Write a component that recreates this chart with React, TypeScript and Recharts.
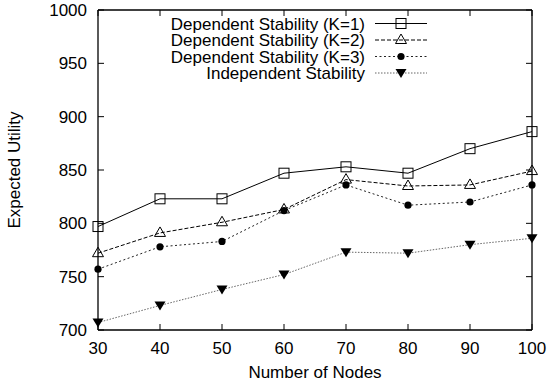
import React from "react";
import { LineChart, Line, XAxis, YAxis, Legend } from "recharts";

const NODES = [30, 40, 50, 60, 70, 80, 90, 100];
const DEP_K1 = [797, 823, 823, 847, 853, 847, 870, 886];
const DEP_K2 = [772, 791, 801, 813, 841, 835, 836, 849];
const DEP_K3 = [757, 778, 783, 812, 836, 817, 820, 836];
const INDEP = [707, 723, 738, 752, 773, 772, 780, 786];

const X_TICKS = [30, 40, 50, 60, 70, 80, 90, 100];
const Y_TICKS = [700, 750, 800, 850, 900, 950, 1000];

const FONT = "'Liberation Sans', Arial, Helvetica, sans-serif";
const FS = 17;

const data = NODES.map((n, i) => ({
  nodes: n,
  k1: DEP_K1[i],
  k2: DEP_K2[i],
  k3: DEP_K3[i],
  indep: INDEP[i],
}));

type Marker = "square" | "triangle" | "circle" | "down";

function drawMarker(kind: Marker, x: number, y: number, key?: string) {
  if (kind === "square")
    return <rect key={key} x={x - 5} y={y - 5} width={10} height={10} fill="none" stroke="#000" strokeWidth={1} />;
  if (kind === "triangle")
    return (
      <polygon key={key} points={`${x},${y - 6} ${x - 5.5},${y + 3.5} ${x + 5.5},${y + 3.5}`} fill="none" stroke="#000" strokeWidth={1} />
    );
  if (kind === "circle") return <circle key={key} cx={x} cy={y} r={3.6} fill="#000" />;
  return <polygon key={key} points={`${x - 5.5},${y - 4} ${x + 5.5},${y - 4} ${x},${y + 5}`} fill="#000" />;
}

const SERIES: { key: string; name: string; stroke: string; dash?: string; marker: Marker }[] = [
  { key: "k1", name: "Dependent Stability (K=1)", stroke: "#000", marker: "square" },
  { key: "k2", name: "Dependent Stability (K=2)", stroke: "#000", dash: "4 2", marker: "triangle" },
  { key: "k3", name: "Dependent Stability (K=3)", stroke: "#222", dash: "2 2.5", marker: "circle" },
  { key: "indep", name: "Independent Stability", stroke: "#666", dash: "1.5 1.5", marker: "down" },
];

const renderLegend = () => (
  <svg width={550} height={90} style={{ display: "block" }}>
    {SERIES.map((s, i) => {
      const y = 23.5 + i * 16.5;
      return (
        <g key={s.key}>
          <text x={365} y={y} dy="0.36em" textAnchor="end" fontFamily={FONT} fontSize={FS} fill="#000">
            {s.name}
          </text>
          <line x1={375} x2={427} y1={y} y2={y} stroke={s.stroke} strokeWidth={1} strokeDasharray={s.dash} />
          {drawMarker(s.marker, 401, y)}
        </g>
      );
    })}
  </svg>
);

const noTick = () => <g />;

export default function App() {
  const tickStyle = { fill: "#000", fontSize: FS, fontFamily: FONT };
  return (
    <div style={{ position: "absolute", left: 0, top: 0, width: 550, height: 389, background: "#fff" }}>
      <LineChart width={550} height={389} data={data} margin={{ top: 9, right: 17, bottom: 0, left: 0 }}>
        <XAxis
          xAxisId="b"
          dataKey="nodes"
          type="number"
          domain={[30, 100]}
          ticks={X_TICKS}
          interval={0}
          height={59}
          tickSize={-6}
          tickMargin={18}
          tick={tickStyle}
          axisLine={{ stroke: "#000", strokeWidth: 1.3 }}
          tickLine={{ stroke: "#000" }}
          label={{ value: "Number of Nodes", position: "insideBottom", offset: 11, style: tickStyle }}
        />
        <XAxis
          xAxisId="t"
          orientation="top"
          dataKey="nodes"
          type="number"
          domain={[30, 100]}
          ticks={X_TICKS}
          interval={0}
          height={1}
          tickSize={-6}
          tick={noTick}
          axisLine={{ stroke: "#000", strokeWidth: 1.3 }}
          tickLine={{ stroke: "#000" }}
        />
        <YAxis
          yAxisId="l"
          type="number"
          domain={[700, 1000]}
          ticks={Y_TICKS}
          interval={0}
          width={98}
          tickSize={-6}
          tickMargin={17}
          tick={tickStyle}
          axisLine={{ stroke: "#000", strokeWidth: 1.3 }}
          tickLine={{ stroke: "#000" }}
          label={{ value: "Expected Utility", angle: -90, position: "insideLeft", offset: 14, style: { ...tickStyle, textAnchor: "middle" } }}
        />
        <YAxis
          yAxisId="r"
          orientation="right"
          type="number"
          domain={[700, 1000]}
          ticks={Y_TICKS}
          interval={0}
          width={1}
          tickSize={-6}
          tick={noTick}
          axisLine={{ stroke: "#000", strokeWidth: 1.3 }}
          tickLine={{ stroke: "#000" }}
        />
        <Legend
          layout="horizontal"
          verticalAlign="middle"
          align="center"
          content={renderLegend}
          wrapperStyle={{ top: 0, left: 0, width: 550, height: 90 }}
        />
        {/* invisible series so the mirrored right axis gets its ticks */}
        <Line xAxisId="b" yAxisId="r" dataKey="k1" stroke="none" dot={false} activeDot={false} isAnimationActive={false} />
        {SERIES.map((s) => (
          <Line
            key={s.key}
            xAxisId="b"
            yAxisId="l"
            dataKey={s.key}
            name={s.name}
            type="linear"
            stroke={s.stroke}
            strokeWidth={1}
            strokeDasharray={s.dash}
            isAnimationActive={false}
            dot={(p: any) => drawMarker(s.marker, p.cx, p.cy, `${s.key}-${p.index}`)}
            activeDot={false}
          />
        ))}
      </LineChart>
    </div>
  );
}
